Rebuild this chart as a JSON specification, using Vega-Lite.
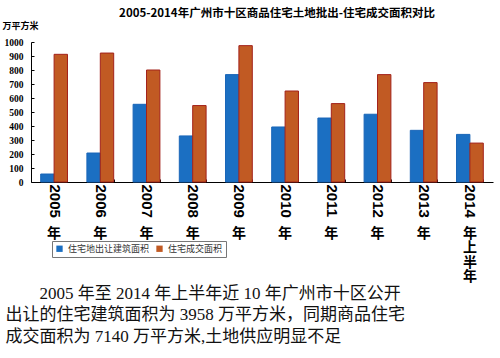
{
  "$schema": "https://vega.github.io/schema/vega-lite/v6.json",
  "width": 462,
  "height": 140,
  "autosize": {"type": "none"},
  "padding": {"left": 31, "top": 42, "right": 7, "bottom": 176},
  "background": "white",
  "title": {
    "text": "2005-2014年广州市十区商品住宅土地批出-住宅成交面积对比",
    "fontSize": 11.5,
    "font": "Noto Sans CJK SC",
    "fontWeight": "bold",
    "anchor": "middle",
    "dx": 15,
    "offset": 2,
    "color": "black"
  },
  "data": {
    "values": [
      {"year": "2005年", "series": "住宅地出让建筑面积", "value": 57},
      {"year": "2005年", "series": "住宅成交面积", "value": 912},
      {"year": "2006年", "series": "住宅地出让建筑面积", "value": 207},
      {"year": "2006年", "series": "住宅成交面积", "value": 921},
      {"year": "2007年", "series": "住宅地出让建筑面积", "value": 555},
      {"year": "2007年", "series": "住宅成交面积", "value": 800},
      {"year": "2008年", "series": "住宅地出让建筑面积", "value": 329},
      {"year": "2008年", "series": "住宅成交面积", "value": 546},
      {"year": "2009年", "series": "住宅地出让建筑面积", "value": 767},
      {"year": "2009年", "series": "住宅成交面积", "value": 974},
      {"year": "2010年", "series": "住宅地出让建筑面积", "value": 393},
      {"year": "2010年", "series": "住宅成交面积", "value": 650},
      {"year": "2011年", "series": "住宅地出让建筑面积", "value": 457},
      {"year": "2011年", "series": "住宅成交面积", "value": 560},
      {"year": "2012年", "series": "住宅地出让建筑面积", "value": 484},
      {"year": "2012年", "series": "住宅成交面积", "value": 767},
      {"year": "2013年", "series": "住宅地出让建筑面积", "value": 369},
      {"year": "2013年", "series": "住宅成交面积", "value": 710},
      {"year": "2014年上半年", "series": "住宅地出让建筑面积", "value": 340},
      {"year": "2014年上半年", "series": "住宅成交面积", "value": 278}
    ]
  },
  "layer": [
    {
      "mark": {"type": "bar", "strokeWidth": 1},
      "encoding": {
        "x": {
          "field": "year",
          "type": "nominal",
          "sort": null,
          "scale": {"paddingInner": 0.42, "paddingOuter": 0.21},
          "axis": {
            "labelExpr": "substring(datum.label, 0, 4)",
            "labelAngle": 90,
            "labelFont": "Liberation Sans",
            "labelFontWeight": "bold",
            "labelFontSize": 15,
            "labelColor": "black",
            "labelPadding": 5,
            "tickBand": "extent",
            "tickSize": -3,
            "tickColor": "black",
            "domainColor": "black",
            "title": [
              "\u200b\u3000\u30002005 年至 2014 年上半年近 10 年广州市十区公开",
              "出让的住宅建筑面积为 3958 万平方米，同期商品住宅",
              "成交面积为 7140 万平方米,土地供应明显不足"
            ],
            "titleFont": "Liberation Serif, Noto Sans CJK SC",
            "titleFontWeight": "normal",
            "titleFontSize": 17,
            "titleLineHeight": 21.5,
            "titleColor": "#111",
            "titleAnchor": "start",
            "titleAlign": "left",
            "titleBaseline": "top",
            "titleX": -26,
            "titleY": 103
          }
        },
        "xOffset": {"field": "series", "sort": ["住宅地出让建筑面积", "住宅成交面积"]},
        "y": {
          "field": "value",
          "type": "quantitative",
          "scale": {"domain": [0, 1000], "nice": false},
          "axis": {
            "title": "万平方米",
            "titleAngle": 0,
            "titleX": -29,
            "titleY": -17,
            "titleAlign": "left",
            "titleBaseline": "middle",
            "titleFontSize": 9,
            "titleFontWeight": "bold",
            "titleFont": "Noto Sans CJK SC",
            "titleColor": "black",
            "values": [0, 100, 200, 300, 400, 500, 600, 700, 800, 900, 1000],
            "format": "d",
            "labelFont": "Liberation Serif",
            "labelFontWeight": "bold",
            "labelFontSize": 9.5,
            "labelColor": "black",
            "domainColor": "black",
            "tickColor": "black",
            "tickSize": -3,
            "labelPadding": 11,
            "grid": false
          }
        },
        "color": {
          "field": "series",
          "sort": ["住宅地出让建筑面积", "住宅成交面积"],
          "scale": {"domain": ["住宅地出让建筑面积", "住宅成交面积"], "range": ["#1b6fc2", "#c15a23"]},
          "legend": {
            "orient": "none",
            "legendX": 21,
            "legendY": 199,
            "direction": "horizontal",
            "title": null,
            "strokeColor": "#777",
            "padding": 3,
            "symbolType": "square",
            "symbolSize": 40,
            "symbolStrokeWidth": 0,
            "labelFontSize": 9,
            "labelFont": "Noto Sans CJK SC",
            "labelColor": "#333",
            "columnPadding": 5
          }
        },
        "stroke": {
          "field": "series",
          "scale": {"domain": ["住宅地出让建筑面积", "住宅成交面积"], "range": ["#1a66b8", "#a3221b"]},
          "legend": null
        }
      }
    },
    {
      "mark": {"type": "bar", "opacity": 0},
      "encoding": {
        "x": {
          "field": "year",
          "type": "nominal",
          "sort": null,
          "axis": {
            "orient": "bottom",
            "labelExpr": "split(substring(datum.label, 4), '')",
            "labelAngle": 0,
            "labelAlign": "center",
            "labelBaseline": "top",
            "labelFont": "Noto Sans CJK SC",
            "labelFontWeight": "bold",
            "labelFontSize": 14,
            "labelLineHeight": 14.5,
            "labelColor": "black",
            "labelPadding": 44,
            "domain": false,
            "ticks": false,
            "tickSize": 0,
            "title": null
          }
        }
      }
    }
  ],
  "resolve": {"axis": {"x": "independent"}},
  "config": {"view": {"stroke": null}}
}
